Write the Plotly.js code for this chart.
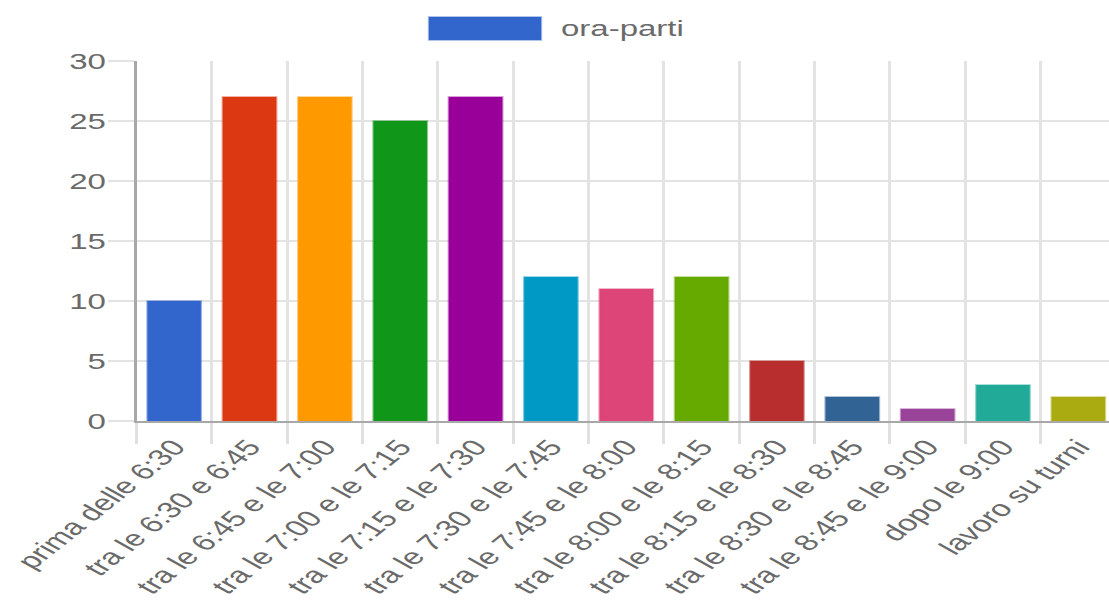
<!DOCTYPE html>
<html>
<head>
<meta charset="utf-8">
<script src="https://cdn.plot.ly/plotly-3.0.1.min.js"></script>
<style>
html,body{margin:0;padding:0;overflow:hidden;background:#fff;width:1109px;height:606px;}
#chart{width:744px;height:606px;transform:scaleX(1.5);transform-origin:0 0;}
</style>
</head>
<body>
<div id="chart"></div>
<script>
const categories = ["prima delle 6:30","tra le 6:30 e 6:45","tra le 6:45 e le 7:00","tra le 7:00 e le 7:15","tra le 7:15 e le 7:30","tra le 7:30 e le 7:45","tra le 7:45 e le 8:00","tra le 8:00 e le 8:15","tra le 8:15 e le 8:30","tra le 8:30 e le 8:45","tra le 8:45 e le 9:00","dopo le 9:00","lavoro su turni"];
const values = [10,27,27,25,27,12,11,12,5,2,1,3,2];
const colors = ["#3366cc","#dc3912","#ff9900","#109618","#990099","#0099c6","#dd4477","#66aa00","#b82e2e","#316395","#994499","#22aa99","#aaaa11"];
const seriesName = "ora-parti";
const yTicks = [0,5,10,15,20,25,30];

function fade(hex, a){
  const n = parseInt(hex.slice(1),16);
  return `rgba(${(n>>16)&255},${(n>>8)&255},${n&255},${a})`;
}

const trace = {
  type: "bar",
  x: categories,
  y: values,
  name: seriesName,
  marker: {color: colors, line: {color: colors.map(c => fade(c, 0.5)), width: 1.5}},
  showlegend: false,
  hoverinfo: "none"
};

const font = {family: "'Liberation Sans', Arial, sans-serif", size: 22, color: "#6a6a6a"};
const xfont = {family: "'Liberation Sans', Arial, sans-serif", size: 22.5, color: "#6a6a6a"};

const layout = {
  width: 744, height: 606,
  margin: {l: 91, r: 0, t: 61, b: 185, pad: 0},
  paper_bgcolor: "#fff", plot_bgcolor: "#fff",
  font: font,
  bargap: 0.29,
  xaxis: {
    type: "category",
    tickson: "boundaries",
    ticks: "outside", ticklen: 21, tickwidth: 2, tickcolor: "#e0e0e0",
    showgrid: true, gridcolor: "#e3e3e3", gridwidth: 2,
    showline: true, linecolor: "#a8a8a8", linewidth: 2,
    tickangle: -50,
    ticklabelstandoff: 2,
    tickfont: xfont,
    automargin: false
  },
  yaxis: {
    range: [0, 30],
    tickvals: yTicks,
    ticktext: yTicks.map(String),
    ticks: "outside", ticklen: 17, tickwidth: 2, tickcolor: "#e3e3e3",
    showgrid: true, gridcolor: "#e3e3e3", gridwidth: 2,
    zeroline: false,
    showline: true, linecolor: "#a8a8a8", linewidth: 2,
    ticklabelstandoff: -3,
    tickfont: font,
    automargin: false
  },
  shapes: [{
    type: "rect", xref: "paper", yref: "paper",
    x0: 0.2986, x1: 0.4130, y0: 1.0583, y1: 1.1222,
    fillcolor: colors[0], line: {color: fade(colors[0], 0.5), width: 1.5}
  }],
  annotations: [{
    xref: "paper", yref: "paper", x: 0.4303, y: 1.0903,
    xanchor: "left", yanchor: "middle", showarrow: false,
    text: seriesName, font: font
  }]
};

Plotly.newPlot("chart", [trace], layout, {staticPlot: true, displayModeBar: false});
</script>
</body>
</html>
